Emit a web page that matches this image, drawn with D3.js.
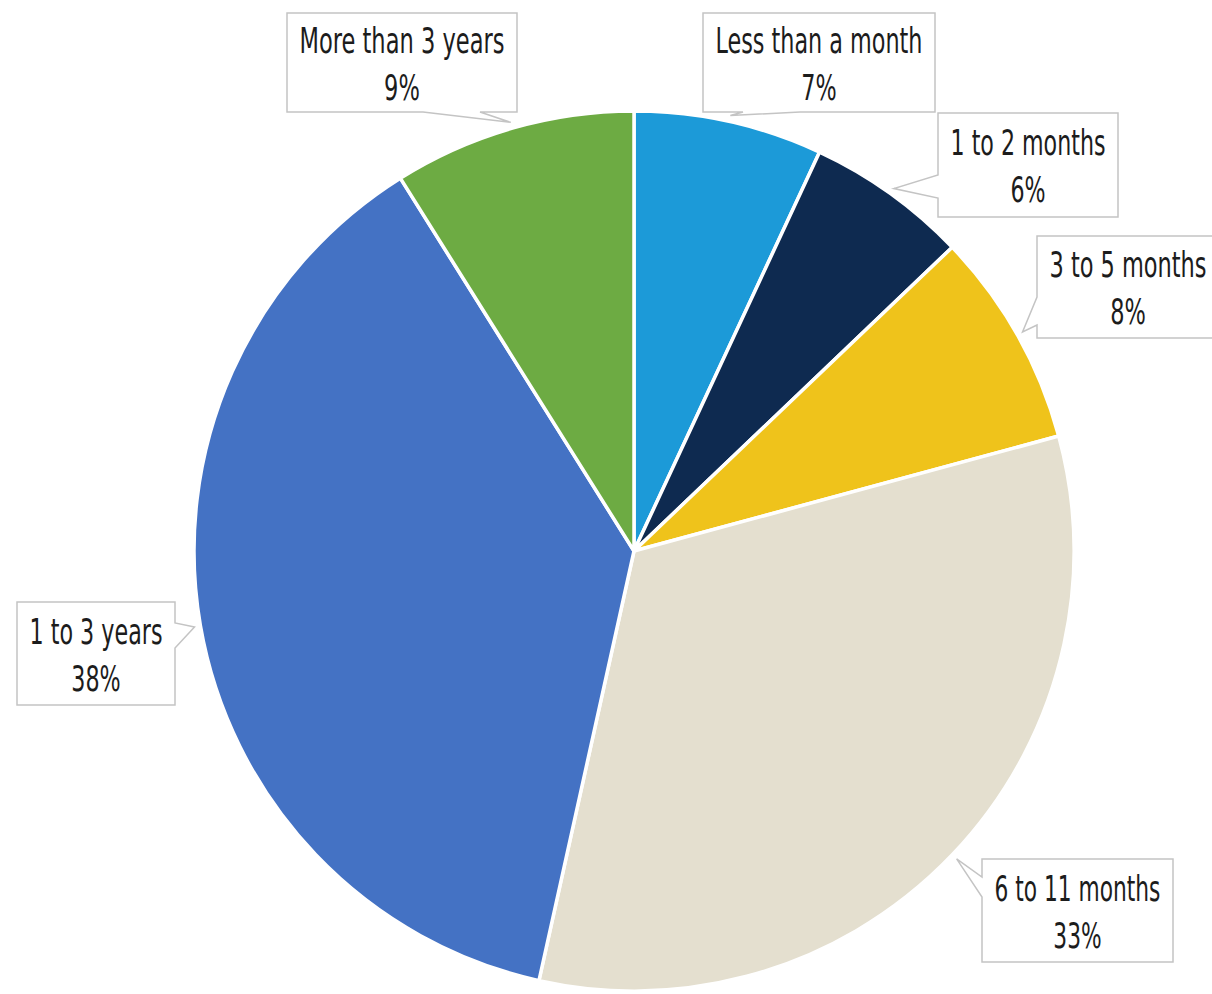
<!DOCTYPE html>
<html>
<head>
<meta charset="utf-8">
<script src="https://cdn.jsdelivr.net/npm/d3@7"></script>
<style>
  body { margin: 0; background: #ffffff; }
  svg { display: block; }
</style>
</head>
<body>
<svg id="chart" width="1212" height="994"></svg>
<script>
// Time ranges and their share of responses (percent)
const categories = ["Less than a month", "1 to 2 months", "3 to 5 months", "6 to 11 months", "1 to 3 years", "More than 3 years"];
const shares = [7, 6, 8, 33, 38, 9];
const sliceColors = ["#1c9ad8", "#0e2a50", "#efc31b", "#e4dfcf", "#4472c4", "#6dab43"];

// Callout boxes: left, top, width, height, the side the pointer leaves from,
// and the span (a..b) along that side where the pointer attaches.
const callouts = [
  { x: 703,  y: 13,  w: 232, h: 99,  side: "bottom", a: 40,  b: 97 },
  { x: 938,  y: 113, w: 180, h: 104, side: "left",   a: 62,  b: 85 },
  { x: 1037, y: 236, w: 182, h: 102, side: "left",   a: 61,  b: 89 },
  { x: 982,  y: 859, w: 191, h: 103, side: "left",   a: 18,  b: 38 },
  { x: 17,   y: 602, w: 158, h: 103, side: "right",  a: 21,  b: 46 },
  { x: 287,  y: 13,  w: 230, h: 99,  side: "bottom", a: 136, b: 193 }
];

const svg = d3.select("#chart");
const cx = 634, cy = 551, R = 440;
const fontStack = "'Liberation Sans Narrow', 'DejaVu Sans Condensed', 'Roboto Condensed', sans-serif";

const pie = d3.pie().sort(null).value(d => d)(shares);
const arc = d3.arc().innerRadius(0).outerRadius(R);

const g = svg.append("g").attr("transform", `translate(${cx},${cy})`);
g.selectAll("path.slice")
  .data(pie)
  .join("path")
  .attr("class", "slice")
  .attr("d", arc)
  .attr("fill", (d, i) => sliceColors[i])
  .attr("stroke", "#ffffff")
  .attr("stroke-width", 3.5)
  .attr("stroke-linejoin", "round");

// Callout outline with a wedge pointing at the slice's outer edge
function calloutPath(c, tip) {
  const { x, y, w, h, side, a, b } = c;
  const p = d3.path();
  p.moveTo(x, y);
  p.lineTo(x + w, y);
  if (side === "right") {
    p.lineTo(x + w, y + a); p.lineTo(tip[0], tip[1]); p.lineTo(x + w, y + b);
  }
  p.lineTo(x + w, y + h);
  if (side === "bottom") {
    p.lineTo(x + b, y + h); p.lineTo(tip[0], tip[1]); p.lineTo(x + a, y + h);
  }
  p.lineTo(x, y + h);
  if (side === "left") {
    p.lineTo(x, y + b); p.lineTo(tip[0], tip[1]); p.lineTo(x, y + a);
  }
  p.closePath();
  return p.toString();
}

const labels = svg.append("g");
pie.forEach((d, i) => {
  const c = callouts[i];
  const mid = (d.startAngle + d.endAngle) / 2;
  const pt = d3.pointRadial(mid, R + 6);
  const tip = [cx + pt[0], cy + pt[1]];

  labels.append("path")
    .attr("d", calloutPath(c, tip))
    .attr("fill", "#ffffff")
    .attr("stroke", "#c4c4c4")
    .attr("stroke-width", 1.5);

  const mx = c.x + c.w / 2;
  const my = c.y + c.h / 2;
  const lines = [categories[i], `${d.data}%`];
  const offsets = [-10, 37];
  const texts = lines.map((t, k) => labels.append("text")
    .attr("text-anchor", "middle")
    .attr("font-family", fontStack)
    .attr("font-size", 35)
    .attr("fill", "#1c1c1c")
    .text(t));
  // condense the label so its first line sits inside the box with a small margin
  const natural = texts[0].node().getComputedTextLength();
  const sx = Math.min(1, (c.w - 25) / natural);
  texts.forEach((t, k) => t.attr("transform", `translate(${mx},${my + offsets[k]}) scale(${sx},1)`));
});
</script>
</body>
</html>
